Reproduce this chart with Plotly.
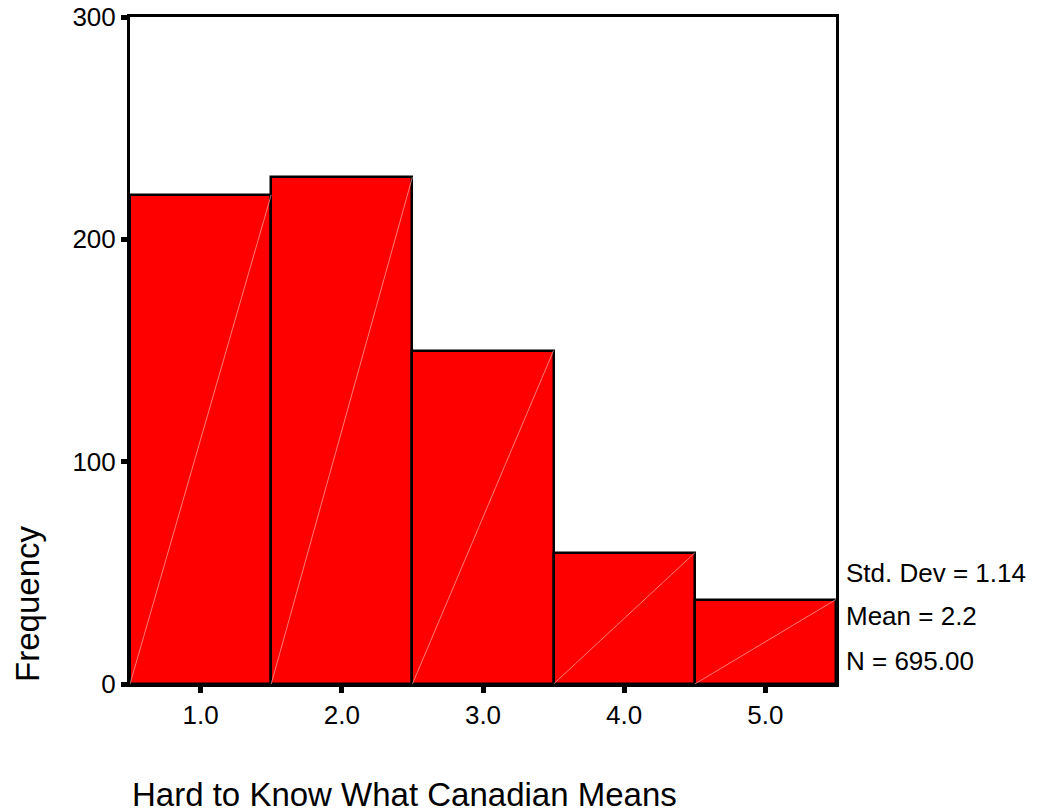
import plotly.graph_objects as go

# Histogram: Hard to Know What Canadian Means
categories = [1.0, 2.0, 3.0, 4.0, 5.0]
tick_labels = ["1.0", "2.0", "3.0", "4.0", "5.0"]
frequency = [220, 228, 150, 59, 38]
stats_text = ["Std. Dev = 1.14", "Mean = 2.2", "N = 695.00"]
stats_y = [50, 30.5, 10.3]

font = "Arial, Liberation Sans, sans-serif"

fig = go.Figure()
fig.add_trace(go.Bar(x=categories, y=frequency, width=1,
                     marker=dict(color="#ff0000", line=dict(color="black", width=2.5)),
                     showlegend=False, hoverinfo="x+y"))

# faint diagonal render lines that SPSS leaves inside each bar
dx, dy = [], []
for c, f in zip(categories, frequency):
    dx += [c - 0.5, c + 0.5, None]
    dy += [0, f, None]
fig.add_trace(go.Scatter(x=dx, y=dy, mode="lines",
                         line=dict(color="rgba(255,170,170,0.7)", width=1),
                         showlegend=False, hoverinfo="skip"))

for t, yv in zip(stats_text, stats_y):
    fig.add_annotation(text=t, xref="paper", x=1.0, xanchor="left", xshift=8,
                       yref="y", y=yv, yanchor="middle", showarrow=False,
                       font=dict(size=26, color="black", family=font))

fig.add_annotation(text="Frequency", xref="paper", x=-0.146, xanchor="center",
                   yref="paper", y=0.0, yanchor="bottom", textangle=-90,
                   showarrow=False, font=dict(size=33, color="black", family=font))
fig.add_annotation(text="Hard to Know What Canadian Means", xref="paper", x=0.0,
                   xanchor="left", yref="paper", y=-0.165, yanchor="middle",
                   showarrow=False, font=dict(size=33, color="black", family=font))

fig.update_xaxes(range=[0.5, 5.5], tickvals=categories, ticktext=tick_labels,
                 showgrid=False, zeroline=False, showline=True, linecolor="black",
                 linewidth=3, mirror=True, ticks="outside", ticklen=6, tickwidth=5,
                 tickcolor="black", automargin=False,
                 tickfont=dict(size=26, color="black", family=font))
fig.update_yaxes(range=[0, 300], tickvals=[0, 100, 200, 300],
                 showgrid=False, zeroline=False, showline=True, linecolor="black",
                 linewidth=3, mirror=True, ticks="outside", ticklen=6, tickwidth=5,
                 tickcolor="black", ticklabeloverflow="allow", automargin=False,
                 tickfont=dict(size=26, color="black", family=font))

# page body adds an 8px margin, so the figure is sized to fit inside the window
fig.update_layout(width=1029, height=802,
                  margin=dict(l=122, r=201, t=9, b=126),
                  plot_bgcolor="white", paper_bgcolor="white",
                  bargap=0, font=dict(family=font, color="black"))

fig.write_html("out.html")
